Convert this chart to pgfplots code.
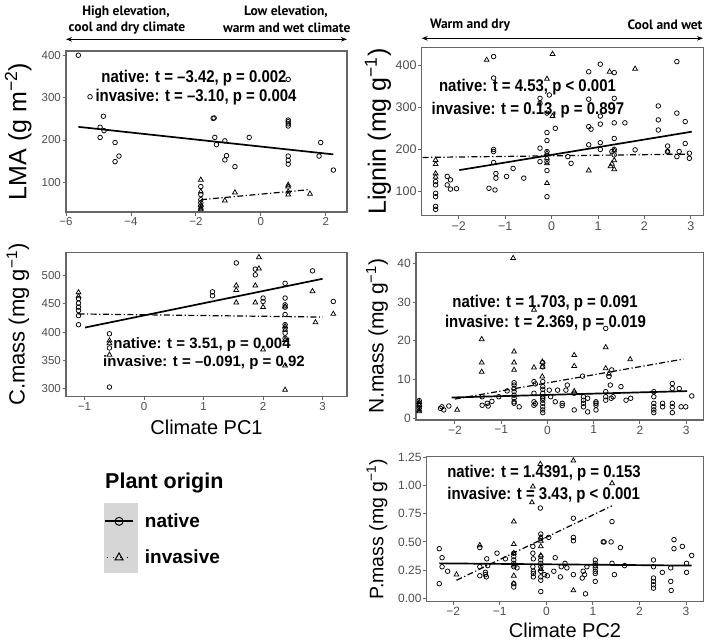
\documentclass[border=0pt]{standalone}
\usepackage{fontspec}
\setmainfont{Liberation Sans}
\newfontfamily\hdrfont{PT Sans}
\newfontfamily\statfont{Liberation Sans}[FakeStretch=0.88]
\usepackage{pgfplots}
\pgfplotsset{compat=1.18}
\usetikzlibrary{arrows.meta}
\definecolor{frame}{HTML}{666666}
\definecolor{tickc}{HTML}{4D4D4D}
\definecolor{keybg}{HTML}{D6D6D6}
\pgfplotsset{
 panel/.style={scale only axis, anchor=south west,
   axis line style={draw=frame, line width=1.2pt},
   tick style={draw=frame, line width=0.9pt}, major tick length=3.5pt, tick align=outside,
   xtick pos=bottom, ytick pos=left,
   ticklabel style={text=tickc},
   yticklabel style={inner sep=1.5pt}, xticklabel style={inner sep=2pt},
   ylabel style={anchor=center},
   xlabel style={font=\fontsize{20}{22}\selectfont, anchor=center},
   clip=false},
 nat/.style={only marks, mark=o, mark size=2.3pt, mark options={line width=0.75pt, black, solid}},
 inv/.style={only marks, mark=triangle, mark size=2.8pt, mark options={line width=0.75pt, black, solid}},
 natline/.style={black, line width=1.7pt, no marks},
 invline/.style={black, line width=1.2pt, no marks, dash pattern=on 6pt off 2.5pt on 1.2pt off 2.5pt},
}
\tikzset{stat/.style={font=\statfont\bfseries\fontsize{17}{19}\selectfont, inner sep=0pt},
 statsm/.style={font=\bfseries\fontsize{15}{17}\selectfont, inner sep=0pt},
 hdr/.style={font=\hdrfont\bfseries\fontsize{13.5}{15}\selectfont, inner sep=0pt}}
\begin{document}
\begin{tikzpicture}
\path[use as bounding box] (0pt,0pt) rectangle (709pt,-643pt);
\fill[keybg] (104pt,-503pt) rectangle (138pt,-572.7pt);
% ---------- LMA
\begin{axis}[panel, at={(66pt,-212pt)}, width=281pt, height=161pt,
  xmin=-6, xmax=2.65, ymin=30, ymax=410,
  ticklabel style={font=\fontsize{11.5}{13}\selectfont},
  xtick={-6,-4,-2,0,2}, xticklabels={−6,−4,−2,0,2},
  ytick={100,200,300,400}, yticklabels={100,200,300,400},
  ylabel={LMA (g m\textsuperscript{−2})}, ylabel style={font=\fontsize{25}{27}\selectfont, at={(axis description cs:-0.17,0.5)}}]
\addplot[nat] coordinates {(-5.62,400) (-5.26,302) (-4.95,230) (-4.85,256) (-4.95,206) (-4.83,222) (-4.49,194) (-4.49,149) (-4.37,162) (-1.47,251) (-1.44,252) (-1.42,206) (-1.37,189) (-1.11,198) (-1.06,163) (-1.11,153) (-0.80,137) (-0.36,206) (-1.85,90) (-1.85,71) (-1.85,59) (-1.85,52) (-1.85,44) (0.84,343) (0.84,247) (0.84,243) (0.84,238) (0.84,233) (0.84,162) (0.84,152) (0.84,143) (1.84,194) (1.79,162) (2.23,129)};
\addplot[inv] coordinates {(-1.85,106) (-1.85,78) (-1.85,47) (-1.85,40) (-1.85,36) (-1.11,57) (-0.80,76) (0.84,94) (0.84,90) (0.84,78) (0.84,71) (1.51,73)};
\addplot[natline] coordinates {(-5.62,231) (2.23,166)};
\addplot[invline] coordinates {(-1.85,59) (1.51,83)};
\end{axis}
% ---------- C.mass
\begin{axis}[panel, at={(66pt,-396.7pt)}, width=281pt, height=144pt,
  xmin=-1.31, xmax=3.41, ymin=286, ymax=540,
  ticklabel style={font=\fontsize{11.5}{13}\selectfont},
  xtick={-1,0,1,2,3}, xticklabels={−1,0,1,2,3},
  ytick={300,350,400,450,500}, yticklabels={300,350,400,450,500},
  ylabel={C.mass (mg g\textsuperscript{−1})}, ylabel style={font=\fontsize{22}{24}\selectfont, at={(axis description cs:-0.171,0.5)}},
  xlabel={Climate PC1}, xlabel style={at={(axis description cs:0.5,-0.215)}}]
\addplot[nat] coordinates {(-1.10,459) (-1.10,451) (-1.10,444) (-1.10,438) (-1.10,429) (-1.10,413) (-0.58,397) (-0.58,372) (-0.58,303) (1.15,471) (1.15,464) (1.55,522) (1.87,511) (1.87,501) (2.0,460) (2.0,454) (2.37,486) (2.37,460) (2.37,448) (2.37,444) (2.37,431) (2.37,413) (2.37,407) (2.37,398) (2.37,389) (2.83,508) (3.18,454)};
\addplot[inv] coordinates {(-1.10,470) (-1.10,463) (-0.58,385) (-0.58,380) (-0.58,360) (1.55,482) (1.55,474) (1.55,452) (1.87,482) (1.87,452) (1.93,532) (1.93,512) (2.0,444) (2.0,369) (2.37,445) (2.37,410) (2.37,404) (2.37,386) (2.37,341) (2.37,298) (2.83,472) (2.88,417) (3.18,432)};
\addplot[natline] coordinates {(-0.99,408) (3.0,494)};
\addplot[invline] coordinates {(-1.10,432) (3.0,426.5)};
\end{axis}
% ---------- Lignin
\begin{axis}[panel, at={(421.7pt,-215.7pt)}, width=281.6pt, height=168pt,
  xmin=-2.8, xmax=3.27, ymin=43, ymax=441,
  ticklabel style={font=\fontsize{12.5}{14}\selectfont},
  xtick={-2,-1,0,1,2,3}, xticklabels={−2,−1,0,1,2,3},
  ytick={100,200,300,400}, yticklabels={100,200,300,400},
  ylabel={Lignin (mg g\textsuperscript{−1})}, ylabel style={font=\fontsize{25}{27}\selectfont, at={(axis description cs:-0.155,0.5)}}]
\addplot[nat] coordinates {(-2.5,124) (-2.5,116) (-2.5,96) (-2.5,88) (-2.5,65) (-2.5,58) (-2.25,136) (-2.25,116) (-2.18,128) (-2.18,106) (-2.05,107) (-1.25,420) (-1.25,369) (-1.25,200) (-1.25,195) (-1.25,169) (-1.35,108) (-1.22,104) (-1.2,143) (-1.2,132) (-0.97,136) (-0.83,155) (-0.6,132) (-0.25,321) (-0.25,309) (-0.25,203) (-0.25,171) (-0.1,286) (-0.1,240) (-0.1,221) (-0.1,195) (-0.1,171) (-0.1,150) (-0.1,88) (-0.05,329) (0.08,250) (0.35,183) (0.42,167) (0.8,384) (0.8,319) (0.8,254) (0.85,248) (0.8,211) (1.05,402) (1.05,279) (1.05,260) (1.05,216) (1.05,200) (1.35,382) (1.35,321) (1.35,263) (1.35,226) (1.35,200) (1.35,187) (1.3,195) (1.58,263) (1.8,199) (2.3,303) (2.3,270) (2.3,246) (2.5,208) (2.5,195) (2.7,408) (2.7,286) (2.7,183) (2.75,195) (2.88,266) (2.88,214) (2.97,191) (2.97,179)};
\addplot[inv] coordinates {(-2.5,175) (-2.5,165) (-2.5,143) (-2.5,135) (-1.4,412) (-0.1,367) (-0.1,191) (-0.1,180) (-0.1,167) (-0.1,120) (0.02,426) (0.02,279) (0.8,150) (1.25,384) (1.35,197) (1.35,174) (1.35,153) (1.3,166) (1.27,160) (1.8,391) (2.5,195)};
\addplot[natline] coordinates {(-1.99,151) (3.02,242)};
\addplot[invline] coordinates {(-2.78,181) (3.0,189)};
\end{axis}
% ---------- N.mass
\begin{axis}[panel, at={(416pt,-420pt)}, width=287.3pt, height=167.3pt,
  xmin=-2.84, xmax=3.37, ymin=-0.4, ymax=42.7,
  ticklabel style={font=\fontsize{12}{14}\selectfont},
  xtick={-2,-1,0,1,2,3}, xticklabels={−2,−1,0,1,2,3},
  ytick={0,10,20,30,40}, yticklabels={0,10,20,30,40},
  ylabel={N.mass (mg g\textsuperscript{−1})}, ylabel style={font=\fontsize{21}{23}\selectfont, at={(axis description cs:-0.136,0.5)}}]
\addplot[nat] coordinates {(-2.77,4.6) (-2.77,3.9) (-2.77,3.2) (-2.77,2.6) (-2.31,2.6) (-2.24,2.2) (-2.13,3.2) (-2.28,3.0) (-1.41,3.4) (-1.30,3.9) (-1.28,3.2) (-1.41,5.6) (-1.20,4.4) (-1.05,5.6) (-0.87,7.1) (-0.72,9.2) (-0.72,8.6) (-0.72,7.7) (-0.72,6.9) (-0.72,6.0) (-0.72,5.2) (-0.72,4.3) (-0.72,3.9) (-0.61,3.0) (-0.29,9.5) (-0.26,8.9) (-0.29,6.5) (-0.29,4.3) (-0.29,3.4) (-0.26,3.8) (-0.1,14.4) (-0.1,13.3) (-0.1,9.5) (-0.1,8.2) (-0.1,7.5) (-0.1,6.5) (-0.1,5.6) (-0.1,5.2) (-0.1,4.7) (-0.1,3.9) (-0.1,3.0) (-0.1,2.2) (-0.1,1.5) (0.04,7.3) (0.07,5.6) (0.22,7.3) (0.17,4.3) (0.32,3.9) (0.32,3.3) (0.43,8.6) (0.40,7.3) (0.58,6.5) (0.58,2.2) (0.76,10.9) (0.78,4.7) (0.78,3.9) (0.78,3.0) (0.78,5.6) (0.87,1.7) (0.87,5.2) (1.05,4.3) (1.05,3.9) (1.05,3.4) (1.05,2.2) (1.26,23.2) (1.26,6.9) (1.26,5.6) (1.26,4.7) (1.33,10.8) (1.39,12.5) (1.36,8.6) (1.38,5.2) (1.42,5.6) (1.59,8.2) (1.70,4.7) (1.80,5.2) (2.3,6.9) (2.3,5.6) (2.3,3.9) (2.3,3.0) (2.3,2.2) (2.3,1.5) (2.49,3.9) (2.49,3.0) (2.7,9.0) (2.7,7.7) (2.7,3.9) (2.7,3.0) (2.7,1.5) (2.85,7.7) (2.89,3.0) (2.99,3.0) (3.12,5.8)};
\addplot[inv] coordinates {(-2.77,4.2) (-2.77,3.5) (-2.77,2.2) (-2.77,1.8) (-1.95,2.2) (-1.42,20.4) (-1.42,14.4) (-1.42,12.0) (-0.74,41.3) (-0.72,17.2) (-0.72,14.4) (-0.72,12.5) (-0.29,13.1) (-0.29,28) (-0.11,14.6) (-0.11,13.3) (-0.11,10.8) (0.58,16.3) (0.58,13.5) (0.58,7.0) (1.26,18.3) (1.26,12.9) (1.33,11.5) (1.79,15.2)};
\addplot[natline] coordinates {(-2.07,5.4) (3.02,7.05)};
\addplot[invline] coordinates {(-2.0,5.0) (2.94,15.3)};
\end{axis}
% ---------- P.mass
\begin{axis}[panel, at={(426.7pt,-601.7pt)}, width=276.6pt, height=145pt,
  xmin=-2.57, xmax=3.37, ymin=-0.03, ymax=1.255,
  ticklabel style={font=\fontsize{12}{14}\selectfont},
  xtick={-2,-1,0,1,2,3}, xticklabels={−2,−1,0,1,2,3},
  ytick={0,0.25,0.5,0.75,1,1.25}, yticklabels={0.00,0.25,0.50,0.75,1.00,1.25},
  ylabel={P.mass (mg g\textsuperscript{−1})}, ylabel style={font=\fontsize{19.5}{22}\selectfont, at={(axis description cs:-0.18,0.5)}},
  xlabel={Climate PC2}, xlabel style={at={(axis description cs:0.5,-0.195)}}]
\addplot[nat] coordinates {(-2.30,0.44) (-2.30,0.13) (-2.24,0.36) (-2.24,0.28) (-2.12,0.24) (-1.43,0.45) (-1.43,0.28) (-1.43,0.20) (-1.31,0.23) (-1.31,0.21) (-1.29,0.19) (-1.28,0.35) (-1.26,0.29) (-1.06,0.40) (-0.88,0.35) (-0.7,0.40) (-0.7,0.37) (-0.7,0.34) (-0.7,0.31) (-0.7,0.28) (-0.7,0.13) (-0.7,0.10) (-0.63,0.27) (-0.29,0.46) (-0.29,0.40) (-0.28,0.35) (-0.28,0.24) (-0.28,0.19) (-0.29,0.28) (-0.28,0.22) (-0.13,0.80) (-0.12,0.57) (-0.12,0.53) (-0.12,0.37) (-0.12,0.34) (-0.12,0.31) (-0.12,0.28) (-0.12,0.24) (-0.12,0.19) (-0.12,0.16) (-0.12,0.06) (-0.04,0.21) (0.05,0.54) (0.02,0.20) (0.19,0.36) (0.16,0.24) (0.30,0.19) (0.32,0.28) (0.40,0.31) (0.44,0.27) (0.58,0.71) (0.58,0.54) (0.58,0.51) (0.58,0.21) (0.77,0.18) (0.79,0.24) (0.82,0.21) (0.84,0.04) (0.87,0.28) (1.05,0.34) (1.05,0.31) (1.05,0.29) (1.05,0.27) (1.05,0.24) (1.05,0.22) (1.05,0.15) (1.22,0.50) (1.24,0.50) (1.39,0.50) (1.41,0.68) (1.46,0.21) (1.41,0.31) (1.59,0.45) (1.68,0.29) (2.3,0.34) (2.3,0.28) (2.3,0.18) (2.3,0.15) (2.3,0.12) (2.3,0.09) (2.49,0.23) (2.67,0.27) (2.67,0.15) (2.68,0.07) (2.74,0.52) (2.74,0.44) (2.92,0.46) (3.01,0.23) (3.01,0.31) (3.12,0.38)};
\addplot[inv] coordinates {(-1.93,0.21) (-1.43,0.47) (-0.7,0.68) (-0.7,0.48) (-0.7,0.40) (-0.7,0.29) (-0.7,0.20) (-0.7,0.13) (-0.13,1.19) (-0.29,0.99) (-0.31,0.85) (-0.12,0.54) (-0.12,0.51) (-0.12,0.46) (-0.12,0.38) (-0.12,0.26) (0.58,1.22) (0.58,0.07) (1.41,1.02)};
\addplot[natline] coordinates {(-2.3,0.31) (3.12,0.29)};
\addplot[invline] coordinates {(-1.93,0.16) (1.41,0.82)};
\end{axis}
% ---------- legend
\begin{axis}[at={(0pt,-643pt)}, anchor=south west, scale only axis, width=709pt, height=643pt,
  hide axis, xmin=0, xmax=1, ymin=0, ymax=1,
  legend cell align=left,
  legend image code/.code={\draw[mark repeat=2,mark phase=2,#1] plot coordinates {(0pt,0pt) (14pt,0pt) (28pt,0pt)};},
  legend style={at={(axis description cs:0.1467,0.2061)}, anchor=north west, draw=none, fill=none,
    font=\bfseries\fontsize{19}{21}\selectfont, row sep=15pt, inner sep=0pt,
    nodes={inner sep=3pt}, /tikz/every odd column/.append style={column sep=8pt}}]
\addlegendimage{black, line width=1.7pt, mark=o, mark size=4pt, mark options={line width=1pt, solid, fill=keybg}}
\addlegendentry{native}
\addlegendimage{black, line width=1.2pt, dash pattern=on 1.2pt off 5.5pt, dash phase=-1.5pt, mark=triangle, mark size=4.6pt, mark options={line width=1pt, solid}}
\addlegendentry{invasive}
\end{axis}
% ---------- texts
\node[anchor=west, font=\bfseries\fontsize{21.5}{24}\selectfont, inner sep=0pt] at (105pt,-482.7pt) {Plant origin};
\node[stat] at (194pt,-78pt) {native: t = –3.42, p = 0.002};
\node[stat] at (196pt,-96.7pt) {invasive: t = –3.10, p = 0.004};
\node[statsm] at (202pt,-345pt) {native: t = 3.51, p = 0.004};
\node[statsm] at (204pt,-362.5pt) {invasive: t = –0.091, p = 0.92};
\node[stat] at (527.5pt,-86.7pt) {native: t = 4.53, p < 0.001};
\node[stat] at (528pt,-110pt) {invasive: t = 0.13, p = 0.897};
\node[stat] at (545pt,-303.3pt) {native: t = 1.703, p = 0.091};
\node[stat] at (545.5pt,-322.7pt) {invasive: t = 2.369, p = 0.019};
\node[stat] at (544pt,-473.3pt) {native: t = 1.4391, p = 0.153};
\node[stat] at (543.7pt,-495pt) {invasive: t = 3.43, p < 0.001};
% headers
\draw[black, line width=1pt, {Stealth[length=6pt,width=4.5pt]}-{Stealth[length=6pt,width=4.5pt]}] (66pt,-39.3pt) -- (347pt,-39.3pt);
\draw[black, line width=1pt, {Stealth[length=6pt,width=4.5pt]}-{Stealth[length=6pt,width=4.5pt]}] (421.7pt,-38.3pt) -- (703pt,-38.3pt);
\node[hdr] at (126pt,-11.7pt) {High elevation,};
\node[hdr] at (127pt,-27.7pt) {cool and dry climate};
\node[hdr] at (286pt,-11.7pt) {Low elevation,};
\node[hdr] at (286.7pt,-27.7pt) {warm and wet climate};
\node[hdr] at (470pt,-25pt) {Warm and dry};
\node[hdr] at (665pt,-25pt) {Cool and wet};
\end{tikzpicture}
\end{document}
